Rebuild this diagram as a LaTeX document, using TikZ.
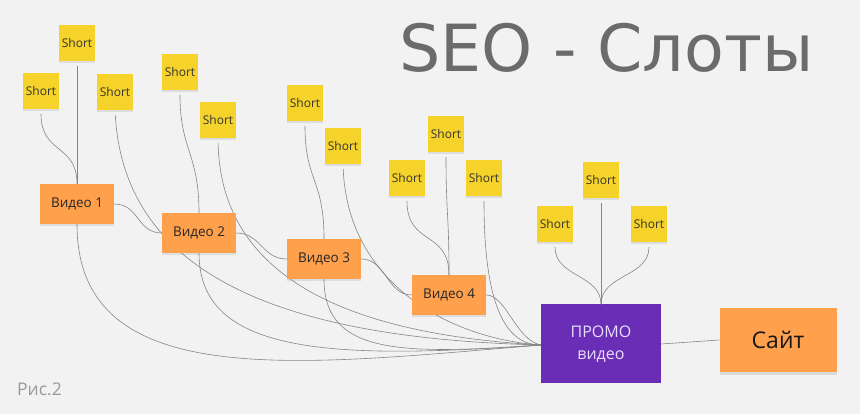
\documentclass[tikz,border=0pt]{standalone}
\usepackage{fontspec}
\setmainfont{Open Sans}
\newfontfamily\titlefont{DejaVu Sans}
\usetikzlibrary{shadows}
\definecolor{bg}{HTML}{F2F2F2}
\definecolor{sticky}{HTML}{F5D32A}
\definecolor{vid}{HTML}{FFA04C}
\definecolor{promo}{HTML}{6A2DB6}
\definecolor{promotext}{HTML}{E9DEFF}
\definecolor{wire}{HTML}{858585}
\definecolor{titlegray}{HTML}{6B6B6B}
\tikzset{
  shortnote/.style={fill=sticky, minimum width=36pt, minimum height=36pt, inner sep=0pt,
    font=\fontsize{12}{13}\selectfont, text=black!80,
    drop shadow={shadow xshift=0pt, shadow yshift=-2pt, opacity=0.18}},
  vidnote/.style={fill=vid, minimum width=74pt, minimum height=40pt, inner sep=0pt,
    font=\fontsize{13.5}{14}\selectfont, text=black!85,
    drop shadow={shadow xshift=0pt, shadow yshift=-2pt, opacity=0.18}},
  promobox/.style={fill=promo, minimum width=120pt, minimum height=79pt, inner sep=0pt,
    font=\fontsize{16}{22}\selectfont, text=promotext, align=center},
  sitenote/.style={fill=vid, minimum width=117pt, minimum height=64pt, inner sep=0pt,
    font=\fontsize{23}{24}\selectfont, text=black!90,
    drop shadow={shadow xshift=0pt, shadow yshift=-3pt, opacity=0.2}},
  wireline/.style={draw=wire, line width=0.6pt},
  fromshort/.style={wireline, shorten <=5pt}
}
\begin{document}
\begin{tikzpicture}[x=1pt,y=1pt]
\fill[bg] (0,0) rectangle (860,414);
\useasboundingbox (0,0) rectangle (860,414);

% title
\node[anchor=base west, inner sep=0pt, text=titlegray, font=\titlefont\fontsize{65}{70}\selectfont] (title) at (399,342) {SEO - Слоты};
\node[anchor=base west, inner sep=0pt, text=black!40, font=\fontsize{17.5}{18}\selectfont] (fig) at (17,18) {Рис.2};

% short notes
\node[shortnote] (s1a) at (77,371) {Short};
\node[shortnote] (s1b) at (41,323) {Short};
\node[shortnote] (s1c) at (115,322) {Short};
\node[shortnote] (s2a) at (180,342) {Short};
\node[shortnote] (s2b) at (218,294) {Short};
\node[shortnote] (s3a) at (305,311) {Short};
\node[shortnote] (s3b) at (343,268) {Short};
\node[shortnote] (s4a) at (446,280) {Short};
\node[shortnote] (s4b) at (407,236) {Short};
\node[shortnote] (s4c) at (484,236) {Short};
\node[shortnote] (s5a) at (601,234) {Short};
\node[shortnote] (s5b) at (555,190) {Short};
\node[shortnote] (s5c) at (649,190) {Short};

% main nodes
\node[promobox] (promo) at (601,70) {ПРОМО\\видео};
\node[sitenote] (site) at (778,74) {Сайт};
\coordinate (pin) at ([yshift=-1pt]promo.west);

% connectors behind video notes
\draw[fromshort] (s1c.south) .. controls +(10,-174) and +(-240,6) .. (pin);
\draw[fromshort] (s2b.south) .. controls +(3,-146) and +(-180,10) .. (pin);
\draw[fromshort] (s3b.south) .. controls +(5,-120) and +(-90,6) .. (pin);
\draw[fromshort] (s4c.south) .. controls +(0,-110) and +(-35,0) .. (pin);

\node[vidnote] (v1) at (77,210) {Видео 1};
\node[vidnote] (v2) at (199,181) {Видео 2};
\node[vidnote] (v3) at (324,155) {Видео 3};
\node[vidnote] (v4) at (449,119) {Видео 4};

% shorts to videos
\draw[fromshort] (s1a.south) -- (v1.north);
\draw[fromshort] (s1b.south) .. controls +(0,-45) and +(0,40) .. (v1.north);
\draw[fromshort] (s2a.south) .. controls +(0,-60) and +(0,60) .. (v2.north);
\draw[fromshort] (s3a.south) .. controls +(0,-60) and +(0,60) .. (v3.north);
\draw[fromshort] (s4a.south) .. controls +(0,-60) and +(0,60) .. (v4.north);
\draw[fromshort] (s4b.south) .. controls +(0,-50) and +(0,45) .. (v4.north);
\draw[fromshort] (s5a.south) -- (promo.north);
\draw[fromshort] (s5b.south) .. controls +(0,-35) and +(0,30) .. (promo.north);
\draw[fromshort] (s5c.south) .. controls +(0,-35) and +(0,30) .. (promo.north);

% video chain
\draw[wireline] (v1.east) .. controls +(25,0) and +(-25,0) .. (v2.west);
\draw[wireline] (v2.east) .. controls +(25,0) and +(-25,0) .. (v3.west);
\draw[wireline] (v3.east) .. controls +(25,0) and +(-25,0) .. (v4.west);

% videos to promo
\draw[wireline] (v1.south) .. controls +(0,-170) and +(-241,-20) .. (pin);
\draw[wireline] (v2.south) .. controls +(0,-101) and +(-211,-15) .. (pin);
\draw[wireline] (v3.south) .. controls +(0,-75) and +(-141,-10) .. (pin);
\draw[wireline] (v4.east) .. controls +(20,0) and +(-25,5) .. (pin);

% promo to site
\draw[wireline] (promo.east) -- (site.west);
\end{tikzpicture}
\end{document}
